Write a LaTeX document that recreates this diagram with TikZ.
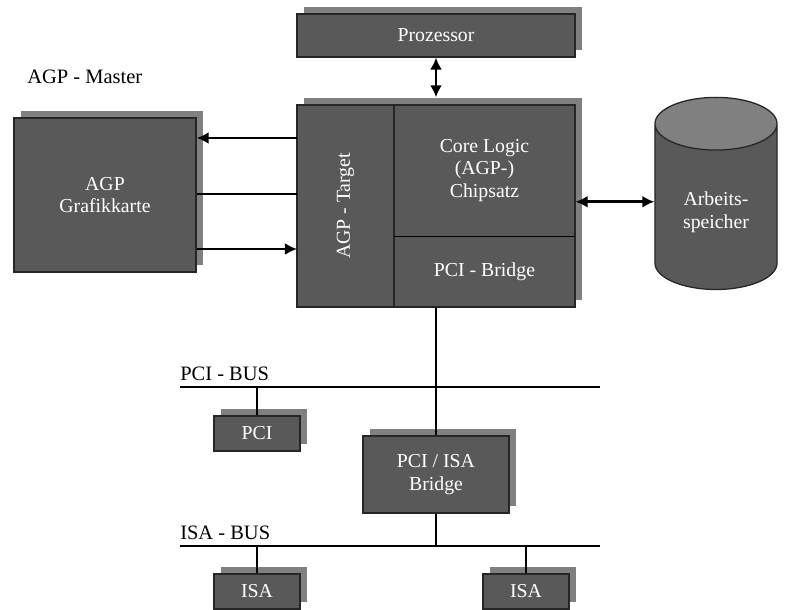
\documentclass[tikz,border=0pt]{standalone}
\usepackage{fontspec}
\setmainfont{Liberation Serif}
\usepackage{tikz}
\usetikzlibrary{arrows.meta,shadows,shapes.geometric}

\definecolor{boxgray}{HTML}{595959}
\definecolor{shadegray}{HTML}{808080}

\begin{document}
\begin{tikzpicture}[x=0.708pt, y=-0.708pt,
      box/.style={draw=black!85, line width=.9pt, fill=boxgray, align=center,
                  text=white, font=\fontsize{14}{16}\selectfont, inner sep=2pt,
                  general shadow={fill=shadegray, shadow xshift=5pt, shadow yshift=5pt}},
      part/.style={align=center, text=white, font=\fontsize{14}{16}\selectfont, inner sep=0pt},
      dev/.style={box, minimum width=60.9pt, minimum height=24.8pt},
      lbl/.style={font=\fontsize{14.5}{16}\selectfont, inner sep=0pt},
      arr/.style={-{Latex[length=3mm,width=3mm]}, line width=1.9pt},
      darr/.style={{Latex[length=3mm,width=3mm]}-{Latex[length=3mm,width=3mm]}, line width=1.9pt},
      bus/.style={line width=1.9pt}]
    \useasboundingbox (0,0) rectangle (787,610);

    % processor and north bridge
    \node[box, minimum width=196.8pt, minimum height=30.4pt] (cpu) at (436,35.5) {Prozessor};
    \node[box, minimum width=196.8pt, minimum height=143pt] (core) at (436,206) {};
    \node[part, minimum width=68.7pt, minimum height=143pt] (target) at (345.5,206)
         {\rotatebox{90}{AGP - Target}};
    \node[part, minimum width=128.1pt, minimum height=92.7pt] (logic) at (484.5,170.5)
         {Core Logic\\(AGP-)\\Chipsatz};
    \node[part, minimum width=128.1pt, minimum height=50.3pt] (pcibr) at (484.5,271.5) {PCI - Bridge};
    \draw[black!85, line width=1.2pt] (target.north east) -- (target.south east);
    \draw[black, line width=.8pt] (logic.south west) -- (logic.south east);

    % AGP master
    \node[lbl, anchor=south west] (mlabel) at (27,84) {AGP - Master};
    \node[box, minimum width=128.9pt, minimum height=109pt] (agp) at (105,195) {AGP\\Grafikkarte};

    % main memory
    \node[cylinder, shape border rotate=90, aspect=0.7, draw=black!85, line width=.9pt,
          cylinder uses custom fill, cylinder body fill=boxgray, cylinder end fill=shadegray,
          minimum width=86.4pt, minimum height=136pt, align=center, text=white,
          font=\fontsize{14}{16}\selectfont] (mem) at (716,212) {Arbeits-\\speicher};

    % connections
    \coordinate (a1) at (297,138);
    \coordinate (a2) at (297,194);
    \coordinate (a3) at (297,249);
    \draw[arr] (a1) -- (a1 -| agp.east);
    \draw[bus] (a2) -- (a2 -| agp.east);
    \draw[arr] (a3 -| agp.east) -- (a3);
    \draw[darr] (cpu.south) -- ([yshift=5pt]core.north);
    \draw[darr] ([yshift=3pt]core.east) -- ([yshift=3pt]core.east -| mem.west);

    % buses
    \coordinate (pcil) at (180,387);
    \coordinate (pcir) at (600,387);
    \coordinate (isal) at (180,546);
    \coordinate (isar) at (600,546);
    \node[lbl, anchor=south west] (pcilabel) at (180,381) {PCI - BUS};
    \node[lbl, anchor=south west] (isalabel) at (180,540) {ISA - BUS};
    \draw[bus] (pcil) -- (pcir);
    \draw[bus] (isal) -- (isar);

    % devices
    \node[dev] (pcidev) at (257,433.5) {PCI};
    \node[box, minimum width=103.4pt, minimum height=54.5pt] (bridge) at (436,474.5) {PCI / ISA\\Bridge};
    \node[dev] (isadev1) at (257,591.5) {ISA};
    \node[dev] (isadev2) at (526,591.5) {ISA};

    \draw[bus] (core.south) -- (bridge.north);
    \draw[bus] (bridge.south) -- (bridge.south |- isal);
    \draw[bus] (pcidev.north |- pcil) -- (pcidev.north);
    \draw[bus] (isadev1.north |- isal) -- (isadev1.north);
    \draw[bus] (isadev2.north |- isal) -- (isadev2.north);
\end{tikzpicture}
\end{document}
